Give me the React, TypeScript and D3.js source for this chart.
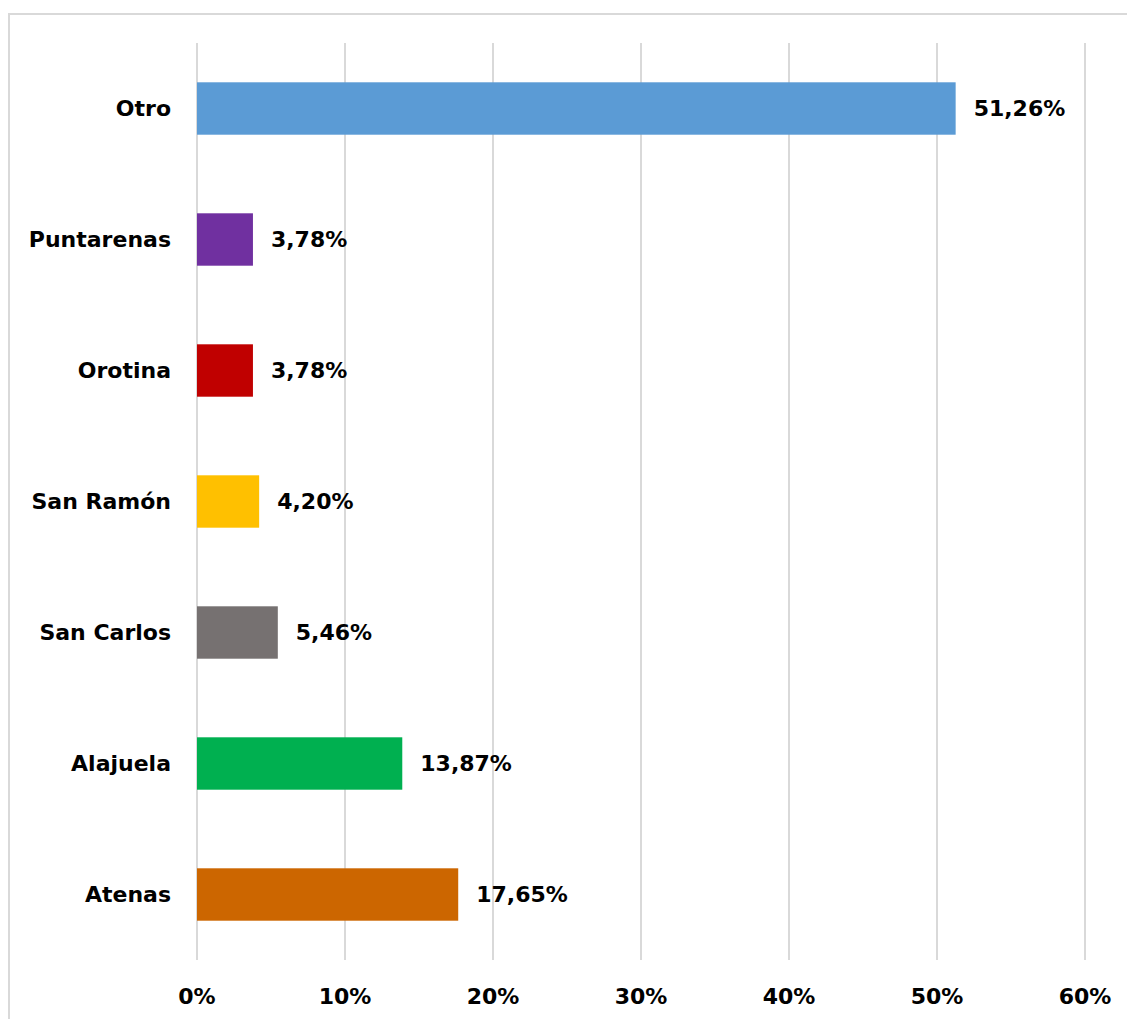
import * as d3 from "d3";

const categories = ["Otro", "Puntarenas", "Orotina", "San Ramón", "San Carlos", "Alajuela", "Atenas"];
const values = [51.26, 3.78, 3.78, 4.2, 5.46, 13.87, 17.65];
const colors = ["#5B9BD5", "#7030A0", "#C00000", "#FFC000", "#767171", "#00B050", "#CC6600"];
const xTicks = [0, 10, 20, 30, 40, 50, 60];

const W = 1127;
const H = 1019;
const margin = { top: 43, left: 197, right: 42, bottom: 59 };
const font = "'DejaVu Sans', sans-serif";

const fmt = (v: number) => v.toFixed(2).replace(".", ",") + "%";

export default function App() {
  const x = d3.scaleLinear().domain([0, 60]).range([margin.left, W - margin.right]);
  const y = d3
    .scaleBand<string>()
    .domain(categories)
    .range([margin.top, H - margin.bottom])
    .paddingInner(0.6)
    .paddingOuter(0.3);

  return (
    <svg
      width={W}
      height={H}
      style={{ position: "absolute", left: 0, top: 0 }}
      fontFamily={font}
    >
      <rect x={0} y={0} width={W} height={H} fill="#fff" />
      {/* chart frame */}
      <rect x={9} y={14} width={W + 20} height={H + 20} fill="none" stroke="#d9d9d9" strokeWidth={2} />
      {xTicks.map((t) => (
        <line
          key={t}
          x1={x(t)}
          x2={x(t)}
          y1={margin.top}
          y2={H - margin.bottom}
          stroke="#d9d9d9"
          strokeWidth={2}
        />
      ))}
      {categories.map((c, i) => (
        <g key={c}>
          <rect
            x={x(0)}
            y={y(c)}
            width={x(values[i]) - x(0)}
            height={y.bandwidth()}
            fill={colors[i]}
          />
          <text
            x={x(0) - 26}
            y={(y(c) ?? 0) + y.bandwidth() / 2}
            textAnchor="end"
            dominantBaseline="central"
            fontSize={22}
            fontWeight="bold"
            fill="#000"
          >
            {c}
          </text>
          <text
            x={x(values[i]) + 18}
            y={(y(c) ?? 0) + y.bandwidth() / 2}
            dominantBaseline="central"
            fontSize={22}
            fontWeight="bold"
            fill="#000"
          >
            {fmt(values[i])}
          </text>
        </g>
      ))}
      {xTicks.map((t) => (
        <text
          key={"l" + t}
          x={x(t)}
          y={996}
          textAnchor="middle"
          dominantBaseline="central"
          fontSize={22}
          fontWeight="bold"
          fill="#000"
        >
          {t + "%"}
        </text>
      ))}
    </svg>
  );
}
